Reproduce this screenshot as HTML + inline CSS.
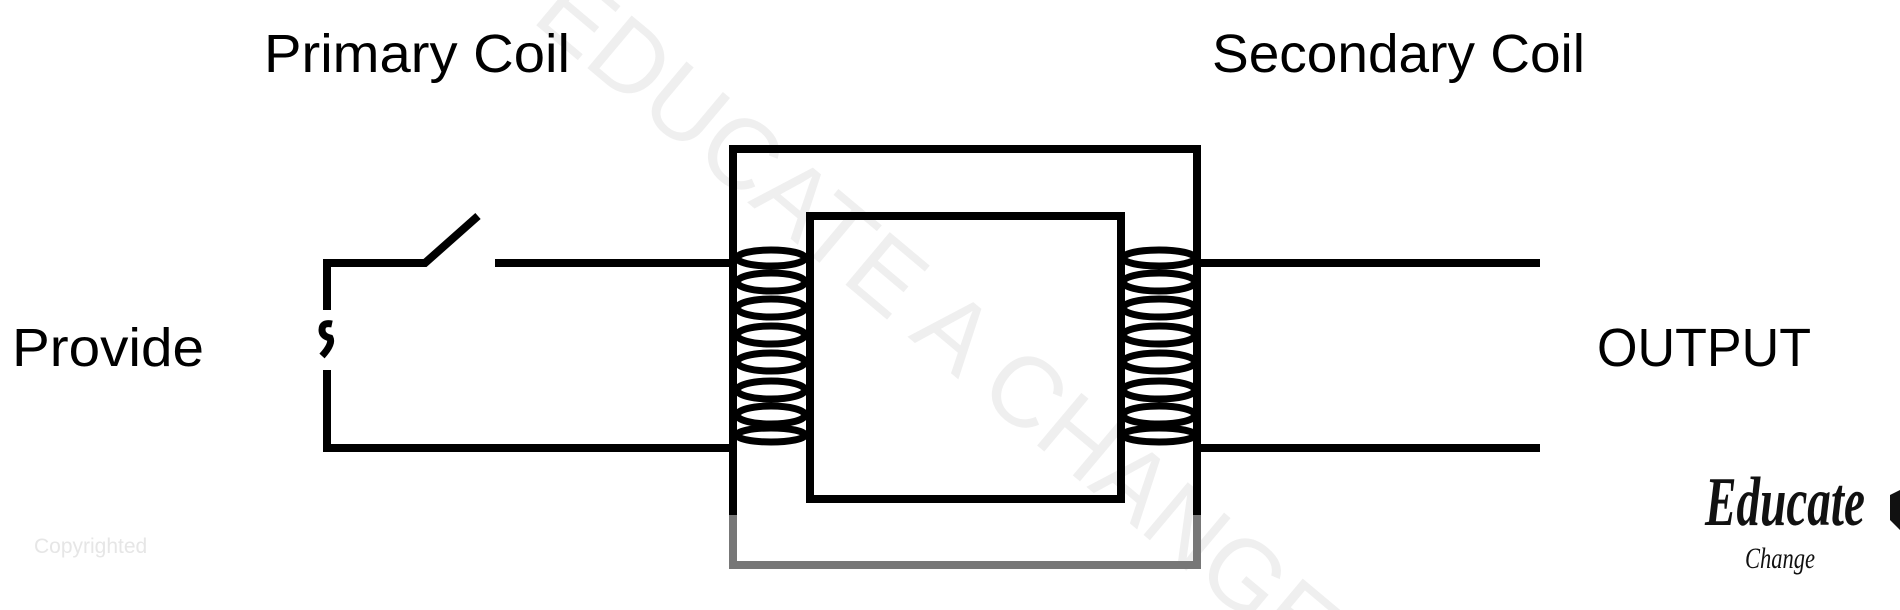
<!DOCTYPE html>
<html><head><style>html,body{margin:0;padding:0;background:#fff;width:1900px;height:610px;overflow:hidden}svg{display:block;overflow:hidden}</style></head>
<body>
<svg width="1900" height="610" viewBox="0 0 1900 610" xmlns="http://www.w3.org/2000/svg">
<defs><clipPath id="c"><rect x="0" y="0" width="1900" height="610"/></clipPath></defs>
<g clip-path="url(#c)">
<text x="530" y="20" font-family="Liberation Sans, sans-serif" font-size="100" fill="#efefef" transform="rotate(40 530 20)">EDUCATE A CHANGE</text>
</g>
<g font-family="Liberation Sans, sans-serif" fill="#000">
<text x="264" y="72" font-size="54" textLength="306" lengthAdjust="spacingAndGlyphs">Primary Coil</text>
<text x="1212" y="72" font-size="54" textLength="373" lengthAdjust="spacingAndGlyphs">Secondary Coil</text>
<text x="12" y="366" font-size="54" textLength="192" lengthAdjust="spacingAndGlyphs">Provide</text>
<text x="1597" y="366" font-size="54" textLength="214" lengthAdjust="spacingAndGlyphs">OUTPUT</text>
</g>
<text x="34" y="553" font-family="Liberation Sans, sans-serif" font-size="21" fill="#e6e6e6">Copyrighted</text>
<g stroke="#000" stroke-width="8" fill="none">
<polyline points="327,310 327,263 425,263 478,216"/>
<line x1="495" y1="263" x2="733" y2="263"/>
<polyline points="327,370 327,448 733,448"/>
<path d="M332,324 q-10,-2 -10,6 q0,6 8,8 q3,6 -8,18" stroke-width="7"/>
<line x1="1197" y1="263" x2="1540" y2="263"/>
<line x1="1197" y1="448" x2="1540" y2="448"/>
<polyline points="733,515 733,149 1197,149 1197,515"/>
<rect x="810" y="216" width="311" height="283"/>
</g>
<g stroke="#777" stroke-width="8" fill="none"><polyline points="733,515 733,565 1197,565 1197,515"/></g>
<g stroke="#000" stroke-width="7" fill="none">
<ellipse cx="771" cy="258" rx="34" ry="8"/>
<ellipse cx="771" cy="282" rx="34" ry="9"/>
<ellipse cx="771" cy="308" rx="34" ry="9"/>
<ellipse cx="771" cy="335" rx="34" ry="9"/>
<ellipse cx="771" cy="362" rx="34" ry="9"/>
<ellipse cx="771" cy="390" rx="34" ry="9"/>
<ellipse cx="771" cy="415" rx="34" ry="9"/>
<ellipse cx="771" cy="435" rx="34" ry="7"/>
<ellipse cx="1159" cy="258" rx="36" ry="8"/>
<ellipse cx="1159" cy="282" rx="36" ry="9"/>
<ellipse cx="1159" cy="308" rx="36" ry="9"/>
<ellipse cx="1159" cy="335" rx="36" ry="9"/>
<ellipse cx="1159" cy="362" rx="36" ry="9"/>
<ellipse cx="1159" cy="390" rx="36" ry="9"/>
<ellipse cx="1159" cy="415" rx="36" ry="9"/>
<ellipse cx="1159" cy="435" rx="36" ry="7"/>
</g>
<text x="1705" y="525" font-family="Liberation Serif, serif" font-style="italic" font-weight="bold" font-size="70" fill="#111" textLength="160" lengthAdjust="spacingAndGlyphs">Educate</text>
<text x="1745" y="568" font-family="Liberation Serif, serif" font-style="italic" font-size="30" fill="#111" textLength="70" lengthAdjust="spacingAndGlyphs">Change</text>
<path d="M1890,495 l10,-5 v40 l-10,-10 z" fill="#111"/>
</svg>
</body></html>
